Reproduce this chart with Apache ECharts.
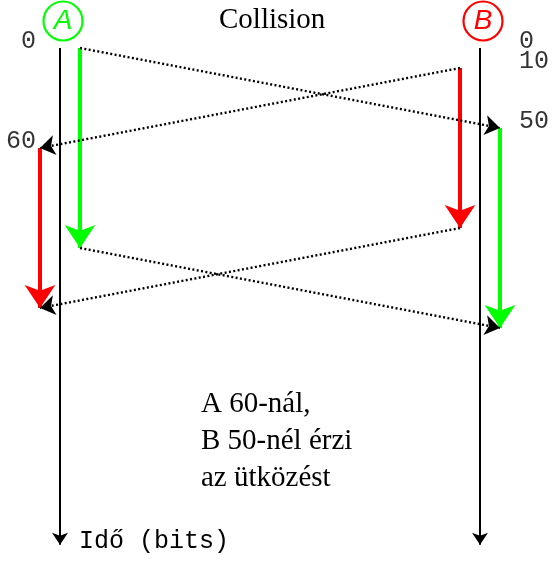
<!DOCTYPE html>
<html>
<head>
<meta charset="utf-8">
<script src="https://cdn.jsdelivr.net/npm/echarts@6/dist/echarts.min.js"></script>
<style>
  html, body { margin: 0; padding: 0; background: #fff; }
  #chart { width: 552px; height: 572px; }
</style>
</head>
<body>
<div id="chart"></div>
<script>
// stations and their frames, times in bits
const stations = ['A', 'B']
const frameStart = [0, 12]     // A starts at 0, B at about 10
const frameEnd = [120, 108]
const arriveStart = [48, 60]   // A's frame reaches B, B's frame reaches A
const arriveEnd = [168, 156]
const timeEnd = 298
const tickTimesA = [0, 60]
const tickLabelsA = ['0', '60']
const tickTimesB = [0, 12, 48]
const tickLabelsB = ['0', '10', '50']
const titleText = 'Collision'
const noteLines = ['A 60-nál,', 'B 50-nél érzi', 'az ütközést']
const axisName = 'Idő (bits)'

// layout: x in lane units (20px each), y in bits
const laneX = [0, 21]
const inward = [1, -1]
const frameColors = ['#00ff00', '#ff0000']
const serif = '"Liberation Serif", "DejaVu Serif", serif'
const mono = '"Liberation Mono", "DejaVu Sans Mono", monospace'

const chart = echarts.init(document.getElementById('chart'))

// frame bars: own send on the inner side, arrival on the outer side of the other lane
const barSeries = stations.map((s, i) => {
  const other = 1 - i
  const sendX = laneX[i] + inward[i]
  const recvX = laneX[other] - inward[other]
  return {
    type: 'lines',
    coordinateSystem: 'cartesian2d',
    symbol: ['none', 'arrow'],
    symbolSize: 23,
    lineStyle: { color: frameColors[i], width: 4, opacity: 1 },
    data: [
      { coords: [[sendX, frameStart[i]], [sendX, frameEnd[i]]] },
      { coords: [[recvX, arriveStart[i]], [recvX, arriveEnd[i]]] }
    ],
    z: 3
  }
})

const dotted = []
stations.forEach((s, i) => {
  const other = 1 - i
  const sendX = laneX[i] + inward[i]
  const recvX = laneX[other] - inward[other]
  dotted.push({ coords: [[sendX, frameStart[i]], [recvX, arriveStart[i]]] })
  dotted.push({ coords: [[sendX, frameEnd[i]], [recvX, arriveEnd[i]]] })
})

const tickData = []
tickTimesA.forEach((t, k) => tickData.push({ value: [-1.2, t], name: tickLabelsA[k], label: { align: 'right' } }))
tickTimesB.forEach((t, k) => tickData.push({ value: [22.95, t], name: tickLabelsB[k], label: { align: 'left' } }))

chart.setOption({
  animation: false,
  grid: { left: 0, right: 0, top: 0, bottom: 0 },
  xAxis: { type: 'value', min: -3, max: 24.6, show: false },
  yAxis: { type: 'value', inverse: true, min: -28.8, max: 314.4, show: false },
  graphic: [
    { type: 'text', x: 219, y: 20.5, style: { text: titleText, font: '29px ' + serif, fill: '#000', verticalAlign: 'middle' } },
    ...noteLines.map((line, k) => ({
      type: 'text', x: 201, y: 404 + k * 37,
      style: { text: line, font: '29px ' + serif, fill: '#000', verticalAlign: 'middle' }
    })),
    { type: 'text', x: 79, y: 541, style: { text: axisName, font: '25px ' + mono, fill: '#000', verticalAlign: 'middle' } }
  ],
  series: [
    {
      // time axes of the two stations
      type: 'lines',
      coordinateSystem: 'cartesian2d',
      symbol: ['none', 'arrow'],
      symbolSize: 12,
      lineStyle: { color: '#000', width: 2, opacity: 1 },
      data: laneX.map(x => ({ coords: [[x, 0], [x, timeEnd]] }))
    },
    ...barSeries,
    {
      type: 'lines',
      coordinateSystem: 'cartesian2d',
      symbol: ['none', 'arrow'],
      symbolSize: 15,
      lineStyle: { color: '#000', width: 2.4, type: [2, 2.4], opacity: 1 },
      data: dotted,
      z: 4
    },
    {
      // station heads
      type: 'scatter',
      symbol: 'circle',
      symbolSize: 39,
      data: stations.map((s, i) => ({
        value: [laneX[i] + 0.15, -16.2],
        name: s,
        itemStyle: { color: 'rgba(0,0,0,0)', borderColor: frameColors[i], borderWidth: 2.2, opacity: 1 },
        label: { color: frameColors[i] }
      })),
      label: {
        show: true, position: 'inside', formatter: '{b}',
        fontFamily: '"Liberation Sans", sans-serif', fontStyle: 'italic', fontSize: 28
      }
    },
    {
      // tick labels beside the lanes
      type: 'scatter',
      symbolSize: 1,
      itemStyle: { color: 'rgba(0,0,0,0)' },
      data: tickData,
      label: {
        show: true, position: 'inside', formatter: '{b}', verticalAlign: 'middle', offset: [0, -7],
        fontFamily: mono, fontSize: 25, color: '#000'
      }
    }
  ]
})
</script>
</body>
</html>
